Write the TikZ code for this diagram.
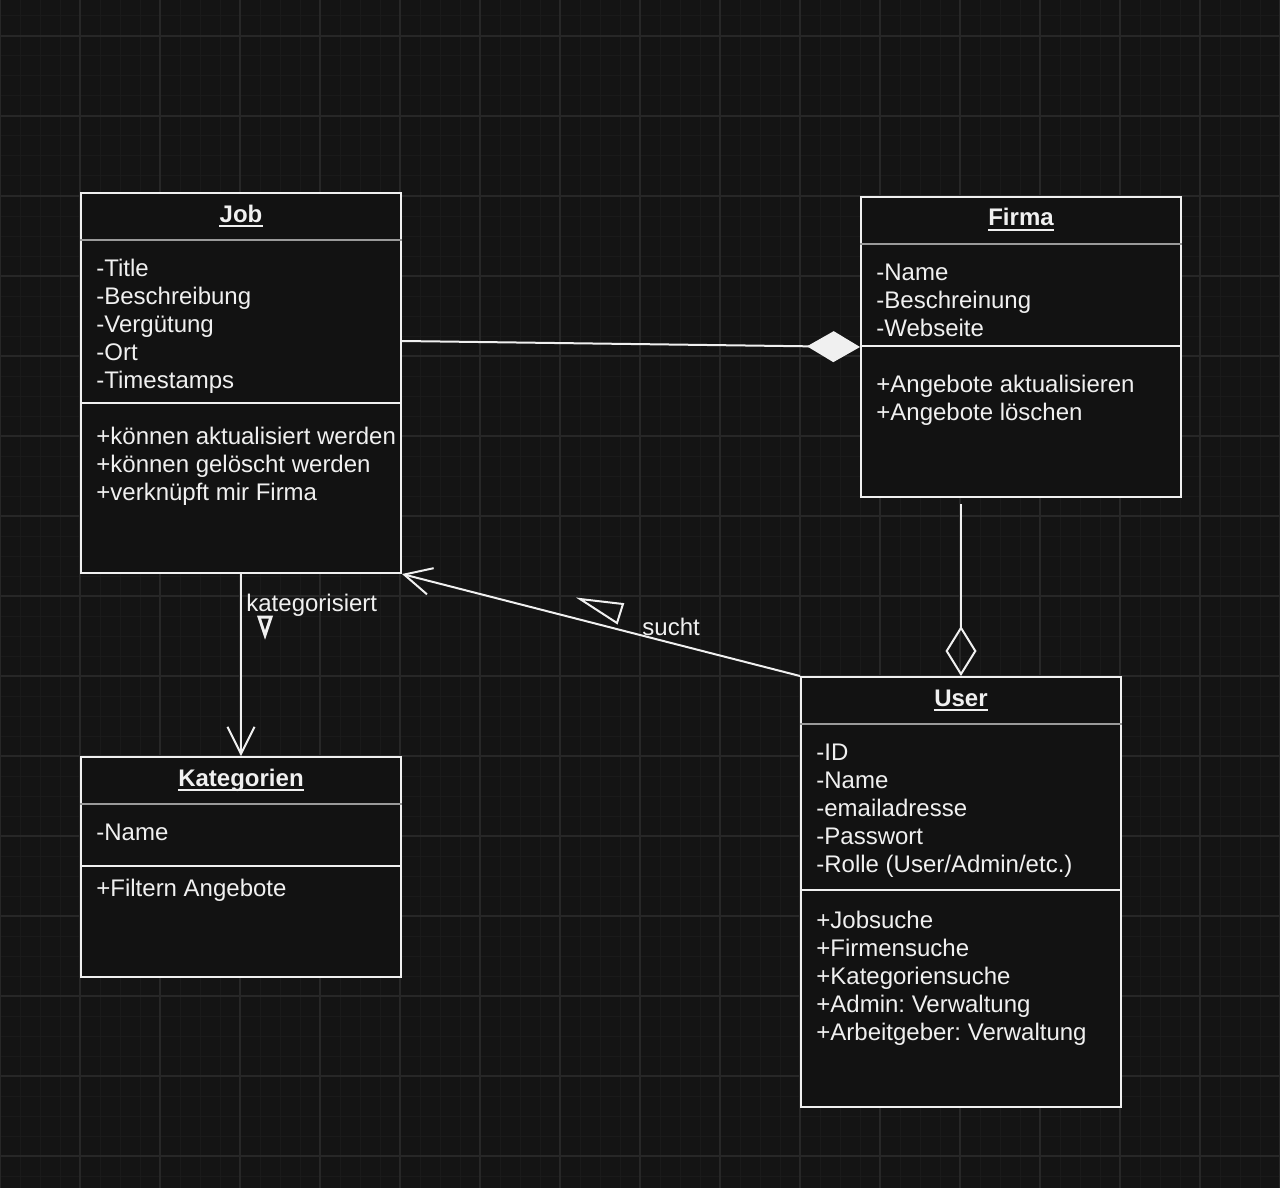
\documentclass[tikz,border=0pt]{standalone}
\usepackage{fontspec}
\setmainfont{Liberation Sans}
\usetikzlibrary{arrows.meta,calc,positioning}
\definecolor{canvas}{HTML}{141414}
\definecolor{boxfill}{HTML}{121212}
\definecolor{minorline}{HTML}{1A1A1A}
\definecolor{majorline}{HTML}{272727}
\definecolor{ink}{HTML}{F0F0F0}
\definecolor{titlerule}{HTML}{9A9A9A}
\frenchspacing

\begin{document}
\begin{tikzpicture}[x=0.5pt,y=-0.5pt,
   umlclass/.style={draw=ink,fill=boxfill,line width=1pt,minimum width=160pt,inner sep=0pt},
   member/.style={anchor=base west,inner sep=0pt,text=ink,font=\fontsize{12}{14}\selectfont},
   classtitle/.style={anchor=base,inner sep=0pt,text=ink,font=\fontsize{12}{14}\selectfont\bfseries},
   link/.style={draw=ink,line width=1pt},
   openhead/.style={-{Straight Barb[length=13.5pt,width=13.5pt]}}]
   % canvas and grid
   \fill[canvas] (0,0) rectangle (1280,1188);
   \useasboundingbox (0,0) rectangle (1280,1188);
   \foreach \x in {0,20,...,1280} \draw[minorline,line width=0.5pt] (\x,0) -- (\x,1188);
   \foreach \y in {16,36,...,1188} \draw[minorline,line width=0.5pt] (0,\y) -- (1280,\y);
   \foreach \x in {0,80,...,1280} \draw[majorline,line width=0.6pt] (\x,0) -- (\x,1188);
   \foreach \y in {36,116,...,1188} \draw[majorline,line width=0.6pt] (0,\y) -- (1280,\y);

   % classes
   \node[umlclass,minimum height=190pt] (job) at (241,383) {};
   \node[umlclass,minimum height=150pt] (firma) at (1021,347) {};
   \node[umlclass,minimum height=110pt] (kat) at (241,867) {};
   \node[umlclass,minimum height=215pt] (user) at (961,892) {};

   % compartments
   \foreach \n/\o/\c in {job/48/titlerule,job/211/ink,firma/48/titlerule,firma/150/ink,
                         kat/48/titlerule,kat/110/ink,user/48/titlerule,user/214/ink}
      \draw[\c,line width=1pt] ($(\n.north west)+(0,\o)$) -- ($(\n.north east)+(0,\o)$);

   % titles
   \foreach \n/\t/\y in {job/Job/222,firma/Firma/226,kat/Kategorien/786,user/User/706} {
      \node[classtitle] (\n title) at (\n.north |- 0,\y) {\t};
      \draw[ink,line width=1pt] ([yshift=-2pt]\n title.base west) -- ([yshift=-2pt]\n title.base east);
   }

   % members
   \foreach \t [count=\i from 0] in {-Title,-Beschreibung,-Vergütung,-Ort,-Timestamps}
      \node[member] (jobattr\i) at (96,{276+28*\i}) {\t};
   \foreach \t [count=\i from 0] in {+können aktualisiert werden,+können gelöscht werden,+verknüpft mir Firma}
      \node[member] (jobop\i) at (96,{444+28*\i}) {\t};
   \foreach \t [count=\i from 0] in {-Name,-Beschreinung,-Webseite}
      \node[member] (firmaattr\i) at (876,{280+28*\i}) {\t};
   \foreach \t [count=\i from 0] in {+Angebote aktualisieren,+Angebote löschen}
      \node[member] (firmaop\i) at (876,{392+28*\i}) {\t};
   \node[member] (katattr0) at (96,840) {-Name};
   \node[member] (katop0) at (96,896) {+Filtern Angebote};
   \foreach \t [count=\i from 0] in {-ID,-Name,-emailadresse,-Passwort,-Rolle (User/Admin/etc.)}
      \node[member] (userattr\i) at (816,{760+28*\i}) {\t};
   \foreach \t [count=\i from 0] in {+Jobsuche,+Firmensuche,+Kategoriensuche,+Admin: Verwaltung,+Arbeitgeber: Verwaltung}
      \node[member] (userop\i) at (816,{928+28*\i}) {\t};

   % relations
   \draw[link,-{Diamond[length=26.5pt,width=15.5pt]}] ([yshift=21pt]job.east) -- (firma.west);
   \draw[link,-{Diamond[open,length=25pt,width=15.5pt]}] ($(firma.south -| user.north)+(0,6)$) -- (user.north);
   \draw[link,openhead] (job.south) -- (kat.north);
   \draw[link,openhead] (user.north west) -- (job.south east);

   % relation labels
   \node[member] (katlabel) at (246,611) {kategorisiert};
   \draw[ink,line width=1.5pt] (259,617) -- (271,617) -- (265,635) -- cycle;
   \node[member] (suchtlabel) at (642,635) {sucht};
   \draw[ink,line width=1pt] (580,599) -- (623,604) -- (617,623) -- cycle;
\end{tikzpicture}
\end{document}
